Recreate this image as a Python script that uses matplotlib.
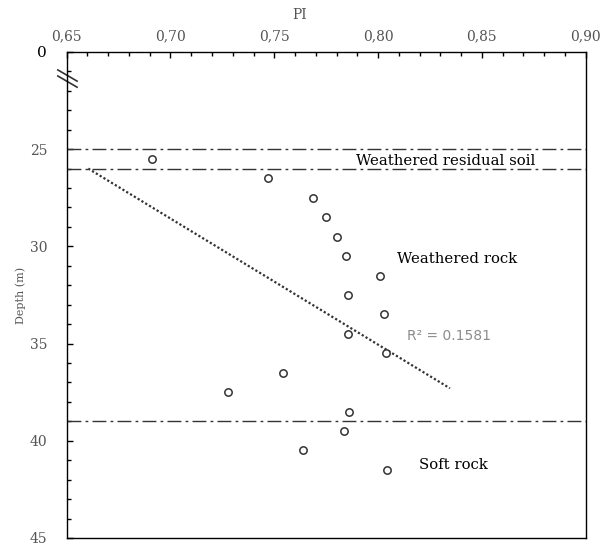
import numpy as np
import matplotlib.pyplot as plt
from matplotlib.ticker import MultipleLocator, FixedLocator

# data
pi = [0.691, 0.747, 0.7685, 0.775, 0.780, 0.7845, 0.801, 0.7855, 0.803,
      0.7855, 0.804, 0.754, 0.7275, 0.786, 0.7835, 0.764, 0.8045]
depth = [25.5, 26.5, 27.5, 28.5, 29.5, 30.5, 31.5, 32.5, 33.5,
         34.5, 35.5, 36.5, 37.5, 38.5, 39.5, 40.5, 41.5]
boundaries = [25, 26, 39]
# linear trend line as drawn in the source chart
trend_pi = [0.6604, 0.8346]
trend_depth = [26.0, 37.3]
r2_text = 'R\u00b2 = 0.1581'

x_ticks = [0.65, 0.70, 0.75, 0.80, 0.85, 0.90]
x_labels = ['0,65', '0,70', '0,75', '0,80', '0,85', '0,90']
y_ticks = [20, 25, 30, 35, 40, 45]
y_labels = ['0', '25', '30', '35', '40', '45']

plt.rcParams['font.family'] = 'DejaVu Serif'

fig = plt.figure(figsize=(6.09, 5.48), dpi=100)
ax = fig.add_axes([0.1095, 0.0183, 0.8522, 0.8869])

ax.set_xlim(0.65, 0.90)
ax.set_ylim(45, 20)

# boundaries
for b in boundaries:
    ax.axhline(b, color='#333333', lw=1, dashes=(10, 3, 2, 3))

# trend line
ax.plot(trend_pi, trend_depth, color='#333333', lw=1.6, linestyle=(0, (1, 1)))

# data points
ax.plot(pi, depth, 'o', ms=5.3, mfc='white', mec='#333333', mew=1.1, ls='none')

# zone labels
ax.text(0.7895, 25.6, 'Weathered residual soil', fontsize=10.7, va='center', ha='left', color='black')
ax.text(0.809, 30.65, 'Weathered rock', fontsize=10.7, va='center', ha='left', color='black')
ax.text(0.8197, 41.25, 'Soft rock', fontsize=10.7, va='center', ha='left', color='black')
ax.text(0.8138, 34.6, r2_text, fontsize=10, va='center', ha='left', color='#8c8c8c',
        family='DejaVu Sans')

# axes and ticks
ax.xaxis.tick_top()
ax.xaxis.set_major_locator(FixedLocator(x_ticks))
ax.set_xticklabels(x_labels)
ax.xaxis.set_minor_locator(MultipleLocator(0.01))
ax.yaxis.set_major_locator(FixedLocator(y_ticks))
ax.set_yticklabels(y_labels)
ax.yaxis.set_minor_locator(MultipleLocator(1))
ax.tick_params(which='both', direction='in', top=True, bottom=False, left=True, right=False,
               labelsize=10, labelcolor='#555555', width=1)
ax.tick_params(which='major', length=4, pad=6)
ax.tick_params(which='minor', length=3)
ax.tick_params(axis='y', pad=14)
ylab = ax.get_yticklabels()
ylab[0].set_color('black')
ylab[0].set_fontsize(11)
for s in ax.spines.values():
    s.set_linewidth(1)
    s.set_color('black')

ax.text(0.448, 1.075, 'PI', transform=ax.transAxes, ha='center', va='center',
        fontsize=10, color='#555555')
ax.text(-0.088, 0.5, 'Depth (m)', transform=ax.transAxes, ha='center', va='center',
        rotation=90, fontsize=8, color='#555555')

# axis break mark
for dy in (0.0, 0.0125):
    ax.plot([-0.017, 0.020], [0.963 - dy, 0.940 - dy], transform=ax.transAxes,
            color='#333333', lw=1.2, clip_on=False)

fig.savefig('out.png', dpi=100)
